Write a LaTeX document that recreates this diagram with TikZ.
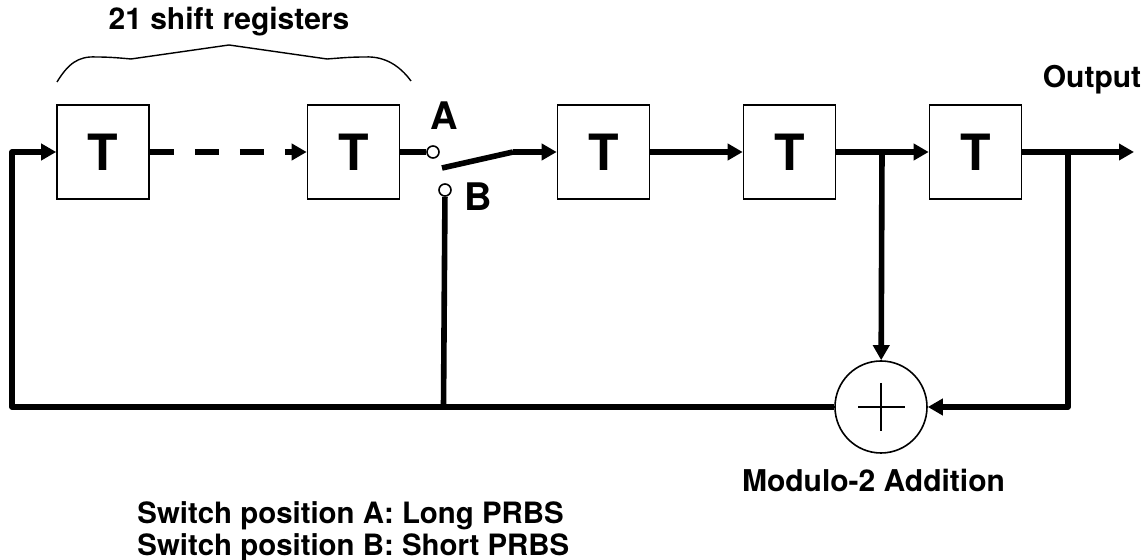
\documentclass[tikz,border=0pt]{standalone}
\usepackage{fontspec}
\setmainfont{TeX Gyre Heros}
\usetikzlibrary{arrows.meta,positioning}

\tikzset{
    register/.style={draw,line width=.8pt,minimum width=46pt,minimum height=47pt,inner sep=0pt,font=\fontsize{25}{25}\selectfont\bfseries},
    adder/.style={draw,circle,line width=.8pt,minimum size=46pt,inner sep=0pt},
    terminal/.style={draw,circle,line width=.8pt,fill=white,minimum size=6pt,inner sep=0pt},
    signal/.style={line width=2.8pt},
    caption/.style={font=\fontsize{15}{16}\selectfont\bfseries,inner sep=0pt},
    pole/.style={font=\fontsize{19}{19}\selectfont\bfseries,inner sep=0pt}
}

\begin{document}
\begin{tikzpicture}[>={Triangle[length=7.5pt,width=8pt]},x=.5pt,y=-.5pt,node distance=46.2pt]

                \useasboundingbox (0,0) rectangle (1142,560);

                \node[register] (t1) at (103,152) {T};

                \node[register] (t2) [right=78.45pt of t1] {T};

                \node[register] (t3) [right=78.2pt of t2] {T};

                \node[register] (t4) [right=of t3] {T};

                \node[register] (t5) [right=of t4] {T};

                \node[adder] (add) at (881,407) {};

                \node[terminal] (a) at (433,152) {};

                \node[terminal] (b) at (445,190) {};

                \coordinate (corner) at (12,407);

                \coordinate (arm) at (442,168);

                \coordinate (hinge) at (513,152);

                \coordinate (feed) at (443.5,407);

                \coordinate (tap1) at (882,152);

                \coordinate (tap2) at (1068,152);

                \coordinate (bend) at (1068,407);

                \coordinate (out) at (1134,152);

                

                \foreach \from/\to in {t3/t4, t4/t5}
                    {
                    \path[->,signal] (\from) edge (\to);
                    }

                \path[->,signal,dash pattern=on 12pt off 10.5pt] (t1) edge (t2);

                \draw[signal] (t2) -- (a);

                \draw[signal] (arm) -- (hinge);

                \draw[->,signal] (hinge) -- (t3);

                \draw[signal] (b) -- (feed);

                \draw[->,signal,line join=round] (add) -- (corner) |- (t1);

                \draw[->,signal] (tap1) -- (add);

                \draw[->,signal] (t5) -- (out);

                \draw[->,signal,line join=round] (tap2) -- (bend) -- (add);

                

                \draw[line width=.8pt] ([xshift=-11.5pt]add.center) -- ([xshift=12pt]add.center);

                \draw[line width=.8pt] ([yshift=12pt]add.center) -- ([yshift=-12pt]add.center);

                \draw[line width=.7pt] (57,82) .. controls (68,64) and (78,56) .. (96,57) .. controls (110,57) and (120,58) .. (131,59) -- (229,45) -- (327,59) .. controls (340,58) and (350,57) .. (365,57) .. controls (385,56) and (400,66) .. (411,81);

                

                \node[caption] (count) at (229,22) {21 shift registers};

                \node[caption] (output) at (1092,80) {Output};

                \node[caption] (addition) at (873.5,480) {Modulo-2 Addition};

                \node[caption,font=\fontsize{14.7}{16}\selectfont\bfseries,align=left,anchor=west] (legend) at (137,532) {Switch position A: Long PRBS\\Switch position B: Short PRBS};

                \node[pole] (la) at (444,116) {A};

                \node[pole] (lb) at (478,197) {B};

            \end{tikzpicture}
\end{document}
